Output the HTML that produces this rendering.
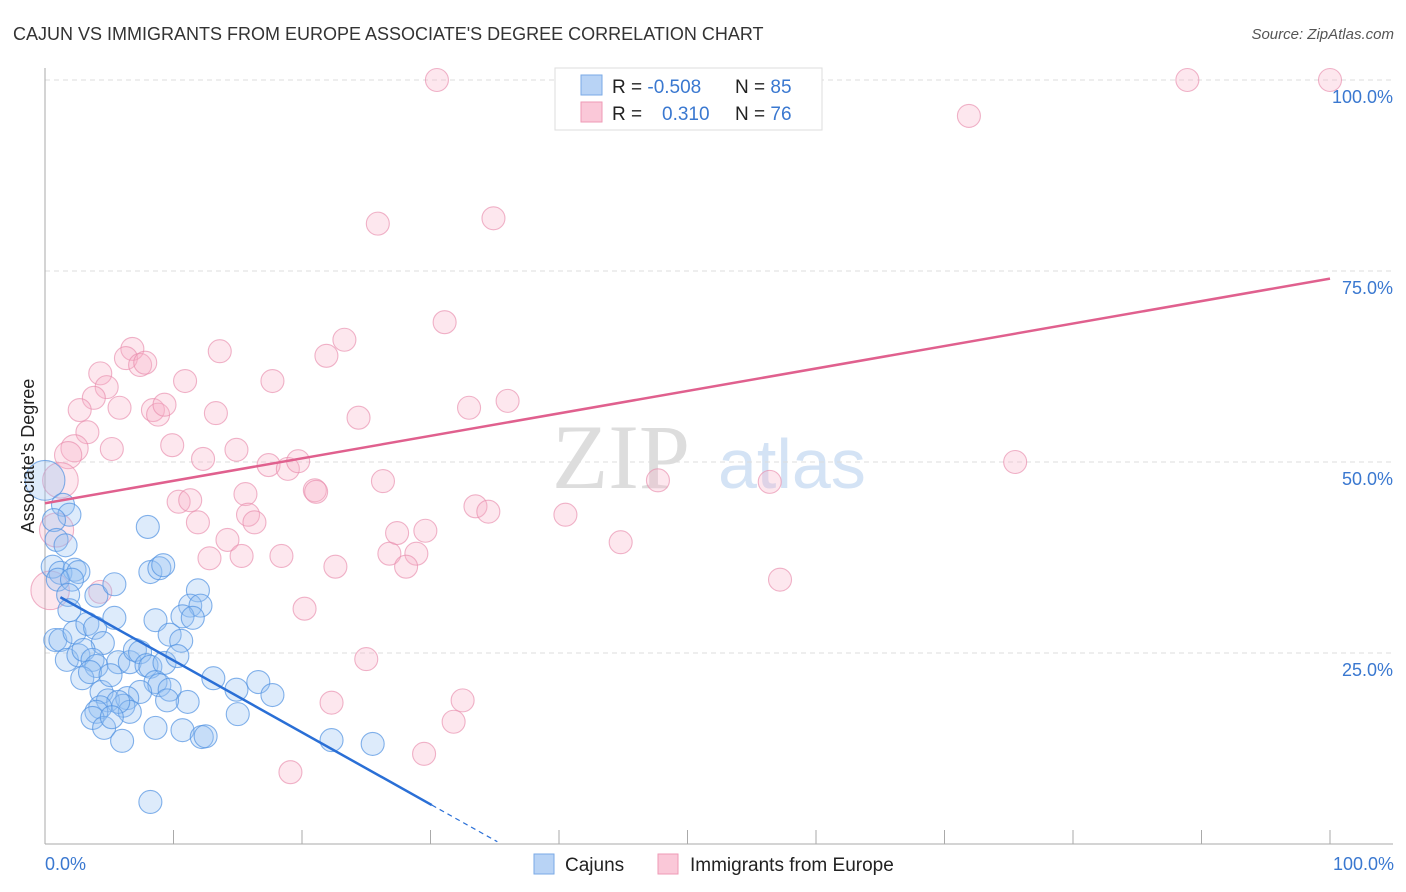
<!DOCTYPE html>
<html><head><meta charset="utf-8">
<style>
body{margin:0;background:#fff;font-family:"Liberation Sans",sans-serif;}
#wrap{position:relative;width:1406px;height:892px;overflow:hidden;}
</style></head><body>
<div id="wrap">
<svg id="svg" width="1406" height="892" xmlns="http://www.w3.org/2000/svg">
<text x="13" y="40" font-size="18" fill="#333">CAJUN VS IMMIGRANTS FROM EUROPE ASSOCIATE'S DEGREE CORRELATION CHART</text>
<text x="1394" y="39" font-size="15" fill="#555" font-style="italic" text-anchor="end">Source: ZipAtlas.com</text>
<g>
<text x="552" y="488" font-size="92" fill="#ddd" font-family="Liberation Serif">ZIP</text>
<text x="718" y="488" font-size="70" fill="#d4e3f5">atlas</text>
</g>
<g id="grid"></g>
<g id="axes"></g>
<g id="pinkpts"></g>
<g id="bluepts"></g>
<g id="lines"></g>
<text transform="translate(34,456) rotate(-90)" font-size="18" fill="#222" text-anchor="middle">Associate's Degree</text>
<text x="45" y="870" font-size="18" fill="#3a78d0">0.0%</text>
<text x="1394" y="870" font-size="18" fill="#3a78d0" text-anchor="end">100.0%</text>
<g>
<rect x="555" y="68" width="267" height="62" fill="#fff" stroke="#ddd"/>
<rect x="581" y="75" width="21" height="20" fill="#b8d3f5" stroke="#7aaae6"/>
<rect x="581" y="102" width="21" height="20" fill="#fac8d8" stroke="#ef9ab6"/>
<text x="612" y="93" font-size="19" fill="#222">R = <tspan fill="#3a78d0">-0.508</tspan></text>
<text x="735" y="93" font-size="19" fill="#222">N = <tspan fill="#3a78d0">85</tspan></text>
<text x="612" y="120" font-size="19" fill="#222">R = </text>
<text x="662" y="120" font-size="19" fill="#3a78d0">0.310</text>
<text x="735" y="120" font-size="19" fill="#222">N = <tspan fill="#3a78d0">76</tspan></text>
</g>
<g>
<rect x="534" y="854" width="20" height="20" fill="#b8d3f5" stroke="#7aaae6"/>
<text x="565" y="871" font-size="19" fill="#222">Cajuns</text>
<rect x="658" y="854" width="20" height="20" fill="#fac8d8" stroke="#ef9ab6"/>
<text x="690" y="871" font-size="19" fill="#222">Immigrants from Europe</text>
</g>
</svg>
</div>
<script>
const yTicks=[25,50,75,100];
const yTickLabels=["25.0%","50.0%","75.0%","100.0%"];
const cajunX=[0,1.4,1.9,0.7,0.9,1.6,0.6,1.2,2.3,2.6,1.0,2.1,1.8,4.0,1.9,5.4,8.0,8.2,8.9,9.2,11.9,11.3,12.1,10.7,11.5,0.8,1.2,2.3,3.3,3.9,4.5,5.4,8.6,9.7,10.6,1.7,2.6,3.0,3.7,4.0,2.9,3.5,4.4,4.9,5.7,5.1,6.6,7.0,7.4,7.9,8.2,9.3,10.3,8.6,8.9,9.7,7.4,6.4,6.1,6.6,5.7,4.3,4.0,3.7,4.6,5.2,6.0,8.6,10.7,12.2,12.5,13.1,14.9,16.6,17.7,15.0,11.1,9.5,8.2,22.3,25.5];
const cajunY=[47.6,44.4,43.1,42.4,39.8,39.1,36.3,35.5,35.9,35.6,34.6,34.6,32.6,32.5,30.6,34.0,41.5,35.6,36.1,36.5,33.2,31.2,31.2,29.8,29.6,26.7,26.7,27.7,28.8,28.3,26.3,29.6,29.3,27.4,26.6,24.1,24.7,25.4,24.1,23.3,21.7,22.5,19.9,18.8,23.8,22.1,23.8,25.4,25.1,23.4,23.2,23.7,24.6,21.2,20.8,20.2,19.9,19.1,18.1,17.3,18.6,17.9,17.3,16.5,15.2,16.6,13.5,15.2,14.9,14.0,14.1,21.7,20.2,21.2,19.5,17.0,18.6,18.8,5.5,13.6,13.1];
const cajunW=[3];
const euroX=[30.5,88.9,100,71.9,25.9,34.9,31.1,23.3,21.9,13.6,6.8,6.3,7.4,7.8,4.3,4.8,10.9,17.7,3.8,2.7,5.8,8.4,8.8,9.3,13.3,24.4,33.0,36.0,3.3,2.3,1.8,5.2,9.9,14.9,12.3,17.4,18.9,19.7,21.0,21.1,26.3,47.7,56.4,75.5,1.2,10.4,11.3,11.9,15.6,15.8,16.3,14.2,12.8,15.3,18.4,22.6,26.8,27.4,28.9,29.6,28.1,33.5,34.5,40.5,44.8,57.2,20.2,0.9,0.4,25.0,32.5,22.3,31.8,29.5,19.1,4.3];
const euroY=[100,100,100,95.3,81.2,81.9,68.3,66.0,63.9,64.5,64.8,63.6,62.7,63.0,61.6,59.8,60.6,60.6,58.4,56.8,57.1,56.8,56.2,57.5,56.4,55.8,57.1,58.0,53.9,51.8,50.9,51.7,52.2,51.6,50.4,49.6,49.1,50.1,46.3,46.1,47.5,47.6,47.4,50.0,47.6,44.8,45.0,42.1,45.8,43.1,42.1,39.8,37.4,37.7,37.7,36.3,38.0,40.7,38.0,41.0,36.3,44.2,43.5,43.1,39.5,34.6,30.8,41.1,33.2,24.2,18.8,18.5,16.0,11.8,9.4,33.0];
const euroW=[1,1,1,1,1,1,1,1,1,1,1,1,1,1,1,1,1,1,1,1,1,1,1,1,1,1,1,1,1,1.4,1.4,1,1,1,1,1,1,1,1,1,1,1,1,1,2.4,1,1,1,1,1,1,1,1,1,1,1,1,1,1,1,1,1,1,1,1,1,1,2.2,2.8,1,1,1,1,1,1,1];
const euroTrendX=[0,100];
const euroTrendY=[44.6,74.0];
const cajunTrendX=[1.2,30.1];
const cajunTrendY=[32.3,5.1];
const cajunDashX=[30.1,35.2];
const cajunDashY=[5.1,0.3];

const NS="http://www.w3.org/2000/svg";
const X0=45,X1=1330,Y0=844,Y1=80;
const sx=v=>X0+(X1-X0)*v/100;
const sy=v=>Y0-(Y0-Y1)*v/100;
function mk(tag,attrs,parent){const e=document.createElementNS(NS,tag);for(const k in attrs)e.setAttribute(k,attrs[k]);parent.appendChild(e);return e;}
const grid=document.getElementById('grid');
yTicks.forEach((t,i)=>{
  const l=mk('line',{x1:X0,x2:1393,y1:sy(t),y2:sy(t),stroke:'#ddd','stroke-dasharray':'5,4'},grid);
  
  
  const tx=mk('text',{x:1393,y:sy(t)+23,'font-size':18,fill:'#3a78d0','text-anchor':'end'},grid);
  tx.textContent=yTickLabels[i];
  
  
});
const axes=document.getElementById('axes');
const ya=mk('line',{x1:X0,x2:X0,y1:68,y2:Y0,stroke:'#aaa'},axes);


const xa=mk('line',{x1:X0,x2:1393,y1:Y0,y2:Y0,stroke:'#aaa'},axes);


for(let k=0;k<=10;k++){
  const t=mk('line',{x1:sx(k*10),x2:sx(k*10),y1:Y0-14,y2:Y0,stroke:'#aaa'},axes);
  
  
}
function pts(xs,ys,ws,g,fill,stroke,name){
  xs.forEach((x,i)=>{
    const w=ws[i]||1;
    const c=mk('circle',{cx:sx(x),cy:sy(ys[i]),r:11.5*Math.sqrt(w),fill:fill,stroke:stroke,'stroke-width':1.1},g);
    
    
  });
}
pts(euroX,euroY,euroW,document.getElementById('pinkpts'),'rgba(248,175,200,0.3)','rgba(232,140,172,0.65)','europe-point');
pts(cajunX,cajunY,cajunW,document.getElementById('bluepts'),'rgba(150,192,242,0.32)','rgba(80,145,225,0.7)','cajun-point');
const lg=document.getElementById('lines');
const l1=mk('line',{x1:sx(euroTrendX[0]),y1:sy(euroTrendY[0]),x2:sx(euroTrendX[1]),y2:sy(euroTrendY[1]),stroke:'#e0608e','stroke-width':2.5},lg);


const l2=mk('line',{x1:sx(cajunTrendX[0]),y1:sy(cajunTrendY[0]),x2:sx(cajunTrendX[1]),y2:sy(cajunTrendY[1]),stroke:'#2a6fd6','stroke-width':2.5},lg);


const l3=mk('line',{x1:sx(cajunDashX[0]),y1:sy(cajunDashY[0]),x2:sx(cajunDashX[1]),y2:sy(cajunDashY[1]),stroke:'#2a6fd6','stroke-width':1.2,'stroke-dasharray':'5,4'},lg);


</script>
</body></html>
